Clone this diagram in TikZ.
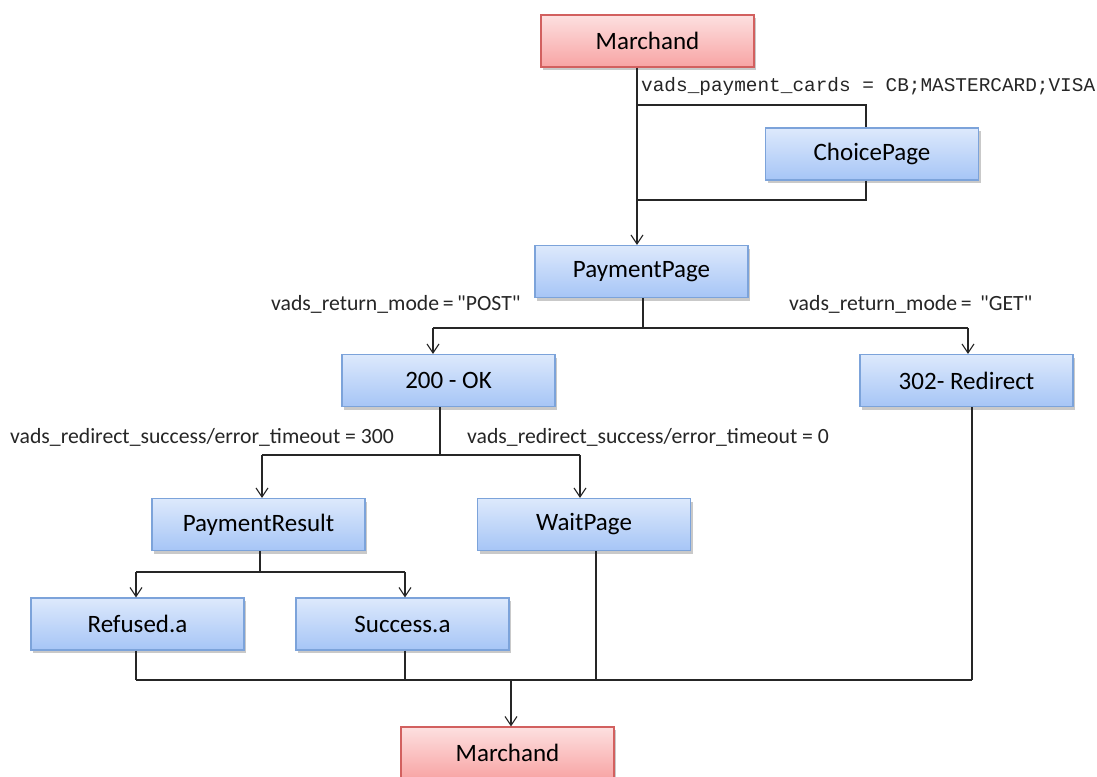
\documentclass[tikz,border=0pt]{standalone}
\usepackage{fontspec}
\setmainfont{Carlito}
\newfontfamily\monofont{Liberation Mono}
\usetikzlibrary{arrows.meta,shadows}
\definecolor{bluetop}{HTML}{DDE9FC}
\definecolor{bluebot}{HTML}{A6C5F6}
\definecolor{blueedge}{HTML}{7CA3DA}
\definecolor{redtop}{HTML}{FDE0E0}
\definecolor{redbot}{HTML}{F8A4A4}
\definecolor{rededge}{HTML}{D2605F}
\tikzset{
  box/.style={rectangle, minimum width=213pt, minimum height=52pt, inner sep=0pt,
    line width=1.1pt, font=\fontsize{25}{27}\selectfont,
    drop shadow={shadow xshift=2pt, shadow yshift=-3pt, opacity=0.35, fill=black!60}},
  bluebox/.style={box, draw=blueedge, top color=bluetop, bottom color=bluebot},
  redbox/.style={box, draw=rededge, top color=redtop, bottom color=redbot},
  conn/.style={line width=1.1pt, draw=black!85},
  arr/.style={conn, -{Straight Barb[length=9pt,width=12pt,line width=1.1pt]}},
  lbl/.style={inner sep=0pt, anchor=west, font=\fontsize{21.7}{23}\selectfont, text=black!85},
  mlbl/.style={inner sep=0pt, anchor=west, font=\monofont\fontsize{19.4}{21}\selectfont, text=black!85}
}
\begin{document}
\begin{tikzpicture}[x=1pt,y=-1pt]
\clip (0,0) rectangle (1097,776);
\fill[white] (0,0) rectangle (1097,776);
% boxes
\node[redbox]  (m1)     at (647.5,41)  {Marchand};
\node[bluebox] (choice) at (872,154)   {ChoicePage};
\node[bluebox] (pay)    at (641.5,271.5) {PaymentPage};
\node[bluebox] (ok)     at (448.5,380.5) {200 - OK};
\node[bluebox] (redir)  at (966.5,380.5) {302- Redirect};
\node[bluebox] (pres)   at (258.5,524.5) {PaymentResult};
\node[bluebox] (wait)   at (584,524.5) {WaitPage};
\node[bluebox] (ref)    at (137.5,624) {Refused.a};
\node[bluebox] (succ)   at (402.5,624) {Success.a};
\node[redbox]  (m2)     at (507.5,753) {Marchand};
% labels
\node[mlbl] (l1) at (641,86) {vads\_payment\_cards = CB;MASTERCARD;VISA};
\node[lbl] (l2) at (271,304) {vads\_return\_mode\,=\,\textquotedbl POST\textquotedbl};
\node[lbl] (l3) at (789,304) {vads\_return\_mode\,=\ \,\textquotedbl GET\textquotedbl};
\node[lbl] (l4) at (10,437) {vads\_redirect\_success/error\_timeout = 300};
\node[lbl] (l5) at (467,437) {vads\_redirect\_success/error\_timeout = 0};
% junction coordinates
\coordinate (a1) at (637,105);
\coordinate (a2) at (637,200);
\coordinate (c1) at (866,105);
\coordinate (c2) at (866,200);
\coordinate (p1) at (643,328);
\coordinate (pl) at (433,328);
\coordinate (pr) at (968,328);
\coordinate (o1) at (440,455);
\coordinate (ol) at (262,455);
\coordinate (or) at (580,455);
\coordinate (r1) at (260,572);
\coordinate (rl) at (136,572);
\coordinate (rr) at (405,572);
\coordinate (bref) at (136,680);
\coordinate (bsucc) at (405,680);
\coordinate (bwait) at (596,680);
\coordinate (bred) at (972,680);
\coordinate (bmid) at (511,680);
% connectors
\draw[arr] (m1.south -| a1) -- (pay.north -| a1);
\draw[conn] (a1) -- (c1) -- (choice.north -| c1);
\draw[conn] (choice.south -| c2) -- (c2) -- (a2);
\draw[conn] (pay.south -| p1) -- (p1);
\draw[conn] (pl) -- (pr);
\draw[arr] (pl) -- (ok.north -| pl);
\draw[arr] (pr) -- (redir.north -| pr);
\draw[conn] (ok.south -| o1) -- (o1);
\draw[conn] (ol) -- (or);
\draw[arr] (ol) -- (pres.north -| ol);
\draw[arr] (or) -- (wait.north -| or);
\draw[conn] (pres.south -| r1) -- (r1);
\draw[conn] (rl) -- (rr);
\draw[arr] (rl) -- (ref.north -| rl);
\draw[arr] (rr) -- (succ.north -| rr);
\draw[conn] (ref.south -| bref) -- (bref);
\draw[conn] (succ.south -| bsucc) -- (bsucc);
\draw[conn] (wait.south -| bwait) -- (bwait);
\draw[conn] (redir.south -| bred) -- (bred);
\draw[conn] (bref) -- (bred);
\draw[arr] (bmid) -- (m2.north -| bmid);
\end{tikzpicture}
\end{document}
